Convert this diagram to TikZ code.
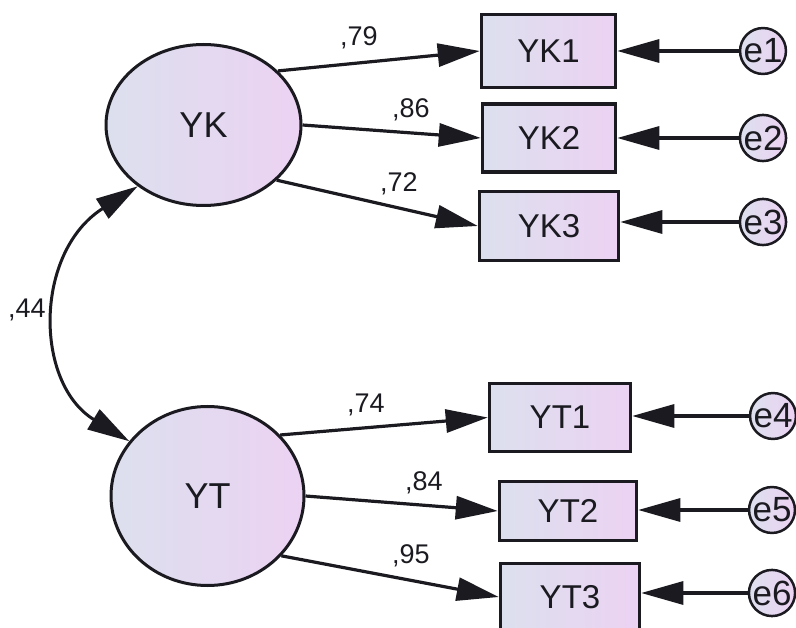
\documentclass[tikz,border=0pt]{standalone}
\usepackage{fontspec}
\setmainfont{Liberation Sans}
\usetikzlibrary{arrows.meta,shapes.geometric}
\definecolor{fillL}{RGB}{220,224,238}
\definecolor{fillR}{RGB}{236,210,243}
\definecolor{ink}{RGB}{26,26,32}

\begin{document}
\begin{tikzpicture}[x=1pt,y=-1pt,
  latent/.style={ellipse, draw=ink, line width=3pt, left color=fillL, right color=fillR,
    inner sep=0pt, font=\fontsize{36}{36}\selectfont, text=ink},
  observed/.style={rectangle, draw=ink, line width=3.5pt, left color=fillL, right color=fillR,
    inner sep=0pt, font=\fontsize{33}{33}\selectfont, text=ink},
  errnode/.style={circle, draw=ink, line width=2.5pt, left color=fillL, right color=fillR,
    minimum size=38pt, inner sep=0pt, font=\fontsize{35}{35}\selectfont, text=ink},
  tip/.tip={Triangle[length=42pt,width=23pt]},
  loadarrow/.style={draw=ink, line width=3.2pt, -tip},
  coef/.style={anchor=base west, inner sep=0pt, font=\fontsize{27}{27}\selectfont, text=ink}
]
\useasboundingbox (0,0) rectangle (796,628);
\clip (0,0) rectangle (796,628);

% latent factors
\node[latent, minimum width=195pt, minimum height=161pt] (YK) at (203.5,125) {YK};
\node[latent, minimum width=193pt, minimum height=179pt] (YT) at (207.5,496) {YT};

% indicators
\node[observed, minimum width=134pt, minimum height=73pt] (YK1) at (548.5,51) {YK1};
\node[observed, minimum width=133pt, minimum height=68pt] (YK2) at (549,138) {YK2};
\node[observed, minimum width=139pt, minimum height=69pt] (YK3) at (549,226) {YK3};
\node[observed, minimum width=141pt, minimum height=68pt] (YT1) at (560,417.5) {YT1};
\node[observed, minimum width=137pt, minimum height=59pt] (YT2) at (568,511) {YT2};
\node[observed, minimum width=139pt, minimum height=67pt] (YT3) at (570,597) {YT3};

% error terms
\node[errnode] (e1) at (763,51) {e1};
\node[errnode] (e2) at (763,138) {e2};
\node[errnode] (e3) at (763,222) {e3};
\node[errnode] (e4) at (773,416) {e4};
\node[errnode] (e5) at (772,510) {e5};
\node[errnode] (e6) at (772,593) {e6};

% factor loadings
\draw[loadarrow] (YK.36) -- (YK1.west);
\draw[loadarrow] (YK.0) -- (YK2.west);
\draw[loadarrow] (YK.-37) -- (YK3.west);
\draw[loadarrow] (YT.40) -- (YT1.west);
\draw[loadarrow] (YT.0) -- (YT2.west);
\draw[loadarrow] (YT.-39) -- (YT3.west);

% error paths
\foreach \e/\b in {e1/YK1, e2/YK2, e3/YK3, e4/YT1, e5/YT2, e6/YT3}
  \draw[loadarrow] (\e.west) -- (\b.east |- \e.west);

% covariance
\draw[draw=ink, line width=3pt, tip-tip] (YK.223) .. controls (34,252) and (34,383) .. (YT.145);

% coefficients
\node[coef] (c44) at (8,318) {,44};
\node[coef] (c79) at (340,46) {,79};
\node[coef] (c86) at (392,118) {,86};
\node[coef] (c72) at (380,192) {,72};
\node[coef] (c74) at (347,413) {,74};
\node[coef] (c84) at (405,490) {,84};
\node[coef] (c95) at (392,563) {,95};
\end{tikzpicture}
\end{document}
